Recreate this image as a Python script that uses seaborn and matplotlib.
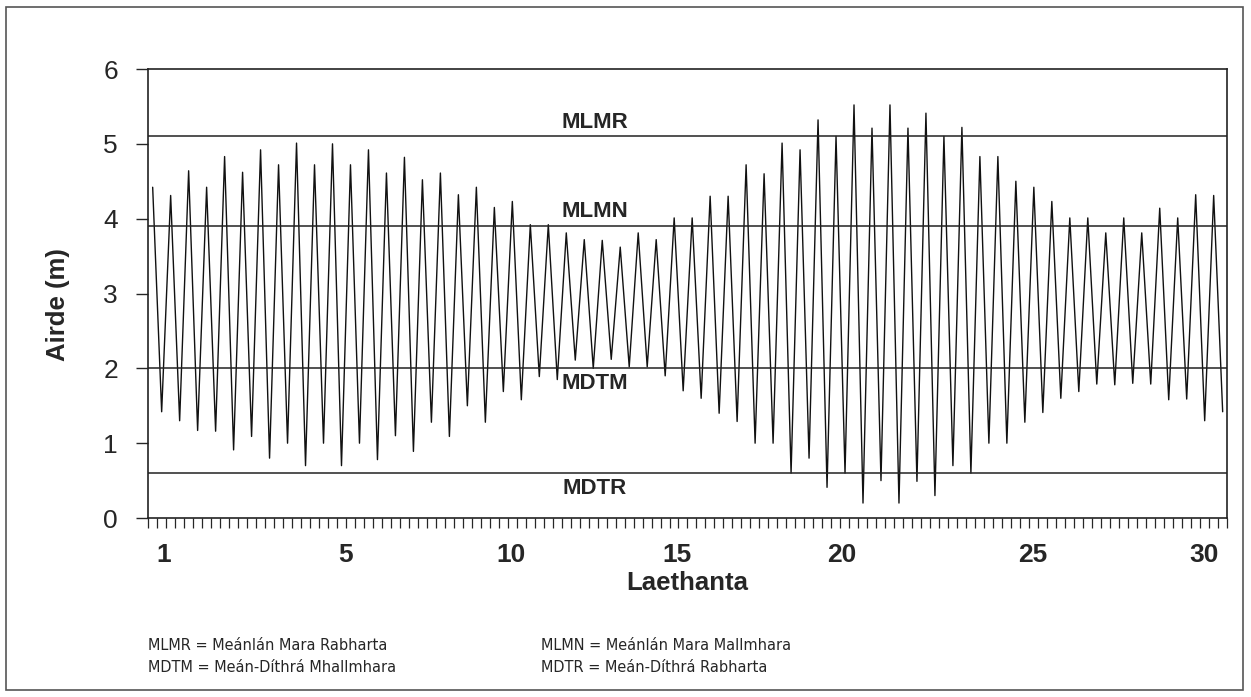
import numpy as np
import pandas as pd
import seaborn as sns
import matplotlib.pyplot as plt
from matplotlib import font_manager
from matplotlib.patches import Rectangle

# High and low water heights (m), two tides a day
high_water = [4.42, 4.31, 4.64, 4.42, 4.83, 4.62, 4.92, 4.72, 5.01, 4.72,
              5.00, 4.72, 4.92, 4.61, 4.82, 4.52, 4.61, 4.32, 4.42, 4.15,
              4.23, 3.92, 3.92, 3.81, 3.72, 3.71, 3.62, 3.81, 3.72, 4.01,
              4.01, 4.30, 4.30, 4.72, 4.60, 5.01, 4.92, 5.32, 5.10, 5.52,
              5.21, 5.52, 5.21, 5.41, 5.10, 5.22, 4.83, 4.83, 4.50, 4.42,
              4.23, 4.01, 4.01, 3.81, 4.01, 3.81, 4.14, 4.01, 4.32, 4.31]
low_water = [1.42, 1.30, 1.17, 1.16, 0.91, 1.09, 0.80, 1.00, 0.70, 1.00,
             0.70, 1.00, 0.78, 1.10, 0.89, 1.28, 1.09, 1.50, 1.28, 1.69,
             1.58, 1.89, 1.85, 2.11, 2.00, 2.12, 2.02, 2.02, 1.90, 1.70,
             1.60, 1.40, 1.29, 1.00, 1.00, 0.60, 0.80, 0.41, 0.60, 0.20,
             0.50, 0.20, 0.49, 0.30, 0.70, 0.60, 1.00, 1.00, 1.28, 1.41,
             1.60, 1.69, 1.79, 1.78, 1.80, 1.79, 1.58, 1.59, 1.30, 1.42]
first_high_day = 0.13
high_days = first_high_day + 0.5 * np.arange(len(high_water))
low_days = high_days + 0.25

datum_names = ['MLMR', 'MLMN', 'MDTM', 'MDTR']
datum_levels = [5.1, 3.9, 2.0, 0.6]

day_labels = ['1', '5', '10', '15', '20', '25', '30']
day_label_pos = [0.44, 5.48, 10.09, 14.71, 19.3, 24.6, 29.35]

key_left = ['MLMR = Meánlán Mara Rabharta', 'MDTM = Meán-Díthrá Mhallmhara']
key_right = ['MLMN = Meánlán Mara Mallmhara', 'MDTR = Meán-Díthrá Rabharta']

tide = pd.DataFrame({
    'Laethanta': np.concatenate([high_days, low_days]),
    'Airde (m)': np.concatenate([high_water, low_water]),
}).sort_values('Laethanta')

sns.set_style("ticks")
plt.rcParams['font.family'] = ['Liberation Sans', 'DejaVu Sans']

# the key is set in a narrow face; use one if the system has it
installed = {f.name for f in font_manager.fontManager.ttflist}
key_style = dict(family=['Liberation Sans'], fontsize=11.2)
if 'Liberation Sans Narrow' in installed:
    key_style = dict(family=['Liberation Sans Narrow'], fontsize=13.5)
else:
    cond = font_manager.findfont(font_manager.FontProperties(
        family='DejaVu Sans', stretch='condensed'))
    if 'Condensed' in cond:
        key_style = dict(family=['DejaVu Sans'], stretch='condensed',
                         fontsize=11.6)

fig = plt.figure(figsize=(12.51, 6.97), dpi=100)
ax = fig.add_axes([0.1183, 0.2568, 0.8625, 0.6442])

sns.lineplot(data=tide, x='Laethanta', y='Airde (m)', color='#111111',
             linewidth=1.0, estimator=None, ax=ax)

for name, level in zip(datum_names, datum_levels):
    ax.axhline(level, color='#222222', linewidth=1.1)
    offset = 0.19 if level > 3 else -0.2
    ax.text(12.43, level + offset, name, ha='center', va='center',
            fontsize=16, fontweight='bold')

ax.set_xlim(0, 30)
ax.set_ylim(0, 6)
ax.set_yticks(range(7))
ax.tick_params(axis='y', length=8.6, width=1, pad=13, labelsize=19,
               direction='out')
ax.set_xticks(day_label_pos)
ax.set_xticklabels(day_labels, fontweight='bold')
ax.tick_params(axis='x', which='major', length=0, pad=18, labelsize=19)
ax.set_xticks(np.arange(0, 30.01, 0.25), minor=True)
ax.tick_params(axis='x', which='minor', length=7.2, width=0.9,
               direction='out')

for sp in ax.spines.values():
    sp.set_color('#222222')
    sp.set_linewidth(1.2)

ax.set_xlabel('Laethanta', fontsize=18.5, fontweight='bold')
ax.set_ylabel('Airde (m)', fontsize=18.5, fontweight='bold')
ax.xaxis.set_label_coords(0.5, -0.118)
ax.yaxis.set_label_coords(-0.072, 0.4755)

for i, (a, b) in enumerate(zip(key_left, key_right)):
    y = 1 - (645 + 22 * i) / 697
    fig.text(148 / 1251, y, a, va='center', **key_style)
    fig.text(541 / 1251, y, b, va='center', **key_style)

fig.add_artist(Rectangle((6 / 1251, 7 / 697), 1237 / 1251, 683 / 697,
                         transform=fig.transFigure, fill=False,
                         edgecolor='#555555', linewidth=1.2))

fig.savefig('out.png', dpi=100)
